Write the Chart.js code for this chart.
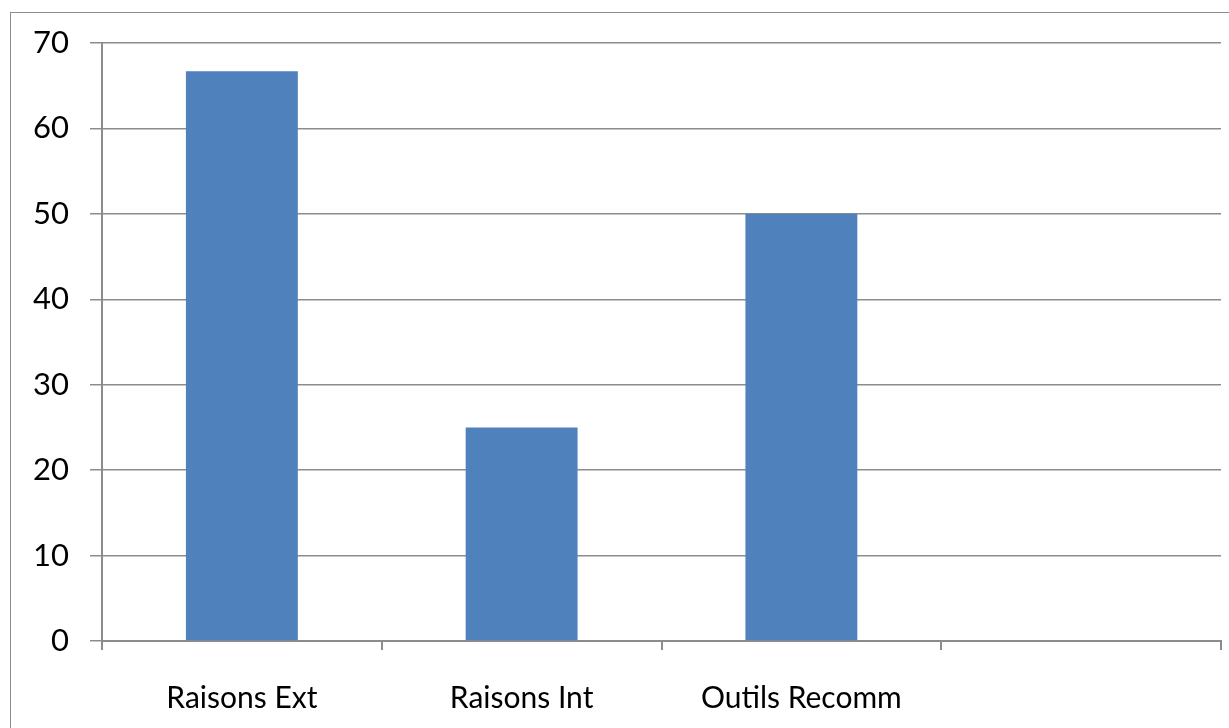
<!DOCTYPE html>
<html>
<head>
<meta charset="utf-8">
<script src="https://cdn.jsdelivr.net/npm/chart.js@4/dist/chart.umd.min.js"></script>
<style>
  body { margin: 0; background: #fff; overflow: hidden; }
  #frame { position: absolute; left: 10px; top: 12px; width: 1400px; height: 900px; border: 1px solid #8c8c8c; }
  #wrap { position: absolute; left: 0; top: 0; width: 1229px; height: 728px; }
</style>
</head>
<body>
<div id="frame"></div>
<div id="wrap"><canvas id="myChart" width="1229" height="728"></canvas></div>
<script>
// categories and values
const categories = ['Raisons Ext', 'Raisons Int', 'Outils Recomm', ''];
const values = [66.7, 25, 50, null];
const yTicks = [0, 10, 20, 30, 40, 50, 60, 70];

const axisGray = '#8c8c8c';
const fontFamily = 'Lato, "Open Sans", sans-serif';

const ctx = document.getElementById('myChart').getContext('2d');
const myChart = new Chart(ctx, {
    type: 'bar',
    data: {
        labels: categories,
        datasets: [{
            data: values,
            backgroundColor: '#4f81bd',
            borderWidth: 0,
            categoryPercentage: 1,
            barPercentage: 0.4
        }]
    },
    options: {
        responsive: false,
        animation: false,
        layout: { padding: { top: 43, right: 8, left: 0, bottom: 0 } },
        plugins: { legend: { display: false }, tooltip: { enabled: false } },
        scales: {
            x: {
                grid: { display: true, offset: true, drawOnChartArea: false, color: axisGray, tickLength: 9, lineWidth: 2 },
                border: { display: true, color: axisGray, width: 2 },
                ticks: { color: '#000', font: { family: fontFamily, size: 30 }, padding: 30 },
                afterFit: (scale) => { scale.height = 87; }
            },
            y: {
                min: 0,
                max: 70,
                afterBuildTicks: (scale) => { scale.ticks = yTicks.map(v => ({ value: v })); },
                grid: { color: axisGray, tickLength: 12, lineWidth: 1.5 },
                border: { display: true, color: axisGray, width: 2 },
                ticks: { color: '#000', font: { family: fontFamily, size: 31 }, padding: 21 },
                afterFit: (scale) => { scale.width = 102; }
            }
        }
    }
});
</script>
</body>
</html>
